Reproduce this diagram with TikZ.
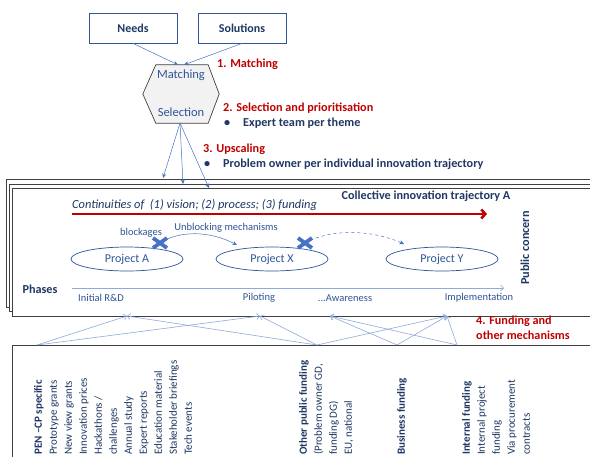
\documentclass[tikz,border=0pt]{standalone}
\usepackage{fontspec}
\setmainfont{Carlito}
\usetikzlibrary{arrows.meta,shapes.geometric}
\definecolor{navy}{HTML}{1F3864}
\definecolor{mblue}{HTML}{2F5597}
\definecolor{lblue}{HTML}{4472C4}
\definecolor{pblue}{HTML}{8FAADC}
\definecolor{dred}{HTML}{C00000}
\definecolor{dgray}{HTML}{404040}
\definecolor{hexfill}{HTML}{F2F2F2}
\begin{document}
\begin{tikzpicture}[x=1pt,y=-1pt,
  topbox/.style={draw=mblue,line width=0.8pt,minimum width=88pt,minimum height=30pt,inner sep=0pt,text=navy,font=\fontsize{12}{14}\selectfont\bfseries},
  redlbl/.style={inner sep=0pt,text=dred,font=\fontsize{12.2}{15}\selectfont\bfseries},
  navylbl/.style={inner sep=0pt,text=navy,font=\fontsize{12.2}{14}\selectfont\bfseries},
  plain/.style={inner sep=0pt,text=mblue,font=\fontsize{10.5}{12}\selectfont},
  conn/.style={draw=lblue,line width=0.5pt,-{Stealth[length=4.5pt,width=4pt]}},
  fund/.style={draw=pblue,line width=0.6pt,-{Straight Barb[length=3pt,width=6pt]}},
  stack/.style={draw=dgray,line width=1pt,fill=white},
  proj/.style={ellipse,draw=mblue,line width=0.7pt,minimum width=112pt,minimum height=24pt,inner sep=0pt,text=mblue,font=\fontsize{12}{13}\selectfont},
  xmark/.style={draw=lblue,line width=3.8pt},
  col/.style={rotate=90,anchor=north west,align=left,inner sep=0pt,text=navy,font=\fontsize{11}{15}\selectfont}
]
\useasboundingbox (0,0) rectangle (590,456);
\clip (0,0) rectangle (590,456);
\fill[white] (0,0) rectangle (590,456);

% top
\node[topbox] (needs) at (133,28) {Needs};
\node[topbox] (sol) at (242,28) {Solutions};
\node[minimum width=76pt,minimum height=58pt,inner sep=0pt] (hex) at (181,94) {};
\draw[fill=hexfill,draw=dgray,line width=0.7pt] (hex.west) -- ([xshift=13pt]hex.north west) -- ([xshift=-11pt]hex.north east) -- (hex.east) -- ([xshift=-11pt]hex.south east) -- ([xshift=13pt]hex.south west) -- cycle;
\node[plain,font=\fontsize{12.5}{14}\selectfont] (m) at (181,75) {Matching};
\node[plain,font=\fontsize{12.5}{14}\selectfont] (s) at (181,112) {Selection};
\draw[conn] (needs.south) -- ([xshift=-3pt]hex.north);
\draw[conn] (sol.south) -- ([xshift=3pt]hex.north);

\node[redlbl,anchor=west] (l1) at (217,64) {1. Matching};
\node[redlbl,anchor=west] (l2) at (223,108) {2. Selection and prioritisation};
\node[navylbl,anchor=west] (b2) at (224,123) {•};
\node[navylbl,anchor=west] (t2) at (243,123) {Expert team per theme};
\node[redlbl,anchor=west] (l3) at (203,149) {3. Upscaling};
\node[navylbl,anchor=west] (b3) at (204,164) {•};
\node[navylbl,anchor=west] (t3) at (223,164) {Problem owner per individual innovation trajectory};

% stacked boxes
\draw[stack] (6,179) rectangle (610,307);
\draw[stack] (9,184) rectangle (610,311);
\draw[stack] (12,188) rectangle (610,316);

\coordinate (hb) at (180,123);
\coordinate (s1) at (163,178);
\coordinate (s2) at (183,184);
\coordinate (s3) at (209,188);
\draw[conn] (hb) -- (s1);
\draw[conn] (hb) -- (s2);
\draw[conn] (hb) -- (s3);

\node[navylbl] (cit) at (426,196) {Collective innovation trajectory A};
\node[inner sep=0pt,text=navy,font=\fontsize{12.4}{14}\selectfont\itshape,anchor=west] (cont) at (72,205) {Continuities of\ \ (1) vision; (2) process; (3) funding};
\coordinate (ra) at (72,214);
\coordinate (rb) at (487,214);
\draw[dred,line width=2.6pt,-{Straight Barb[length=4pt,width=9pt]}] (ra) -- (rb);

\node[proj] (pa) at (127,259) {Project A};
\node[proj] (px) at (272,259) {Project X};
\node[proj] (py) at (442,259) {Project Y};

\coordinate (x1) at (160,243);
\coordinate (x2) at (305,243);
\coordinate (t1) at (237,245);
\coordinate (t2) at (404,244);
\draw[conn] (x1) .. controls (180,230) and (210,231) .. (t1);
\draw[conn,dashed] (x2) .. controls (330,229) and (370,229) .. (t2);
\draw[xmark] (x1) ++(-7,-5) -- ++(14,10) (x1) ++(-7,5) -- ++(14,-10);
\draw[xmark] (x2) ++(-7,-5) -- ++(14,10) (x2) ++(-7,5) -- ++(14,-10);
\node[plain] (blk) at (141,233) {blockages};
\node[plain] (unb) at (226,228) {Unblocking mechanisms};

\node[navylbl] (ph) at (40,289) {Phases};
\coordinate (a0) at (72,288);
\coordinate (a1) at (504,288);
\draw[draw=pblue,line width=0.6pt,-{Straight Barb[length=3pt,width=6pt]}] (a0) -- (a1);
\node[plain] (p1) at (101,298) {Initial R\&D};
\node[plain] (p2) at (259,298) {Piloting};
\node[plain] (p3) at (345,298) {...Awareness};
\node[plain] (p4) at (479,298) {Implementation};
\node[navylbl,rotate=90] (pc) at (525,248) {Public concern};

\node[redlbl,align=left,anchor=north west] (l4) at (476,316) {4. Funding and\\other mechanisms};

% bottom box
\draw[stack] (12,345) rectangle (610,480);
\coordinate (f1) at (37,345);
\coordinate (f2) at (317,345);
\coordinate (f3) at (397,345);
\coordinate (f4) at (457,345);
\coordinate (h1) at (127,316);
\coordinate (h2) at (260,316);
\coordinate (h3) at (330,316);
\coordinate (h4) at (447,316);
\draw[fund] (f1) -- (h1);
\draw[fund] (f1) -- (h2);
\draw[fund] (f2) -- (h1);
\draw[fund] (f2) -- (h2);
\draw[fund] (f2) -- (h4);
\draw[fund] (f3) -- (h3);
\draw[fund] (f3) -- (h4);
\draw[fund] (f4) -- (h3);
\draw[fund] (f4) -- (h4);

\node[col] (c1) at (34,455) {\textbf{PEN –CP specific}\\Prototype grants\\New view grants\\Innovation prices\\Hackathons /\\challenges\\Annual study\\Expert reports\\Education material\\Stakeholder briefings\\Tech events};
\node[col] (c2) at (299,455) {\textbf{Other public funding}\\(Problem owner GD,\\funding DG)\\EU, national};
\node[col] (c3) at (397,455) {\textbf{Business funding}};
\node[col] (c4) at (462,455) {\textbf{Internal funding}\\Internal project\\funding\\Via procurement\\contracts};
\end{tikzpicture}
\end{document}
